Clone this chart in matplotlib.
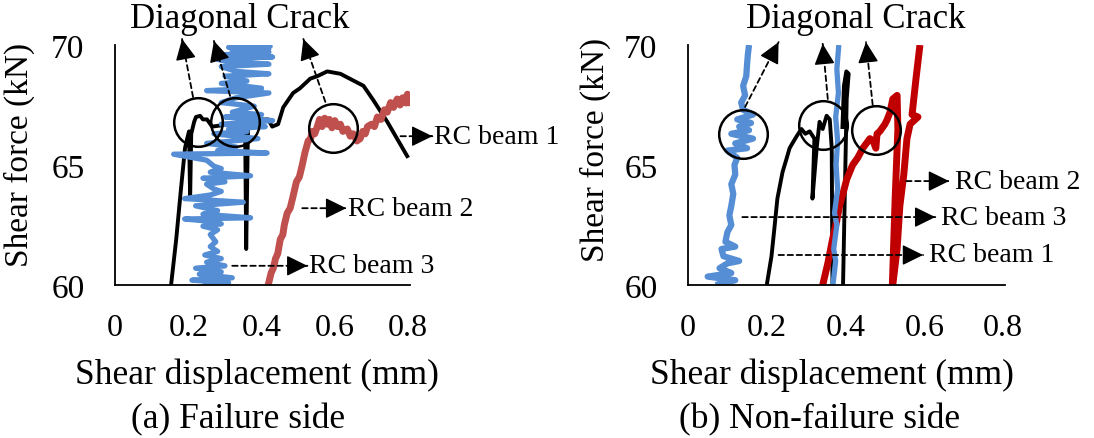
import matplotlib
matplotlib.use("Agg")
import matplotlib.pyplot as plt

plt.rcParams['font.family'] = ['Liberation Serif', 'DejaVu Serif']

# x ticks / y ticks shared by both panels
x_ticks = [0, 0.2, 0.4, 0.6, 0.8]
x_tick_labels = ['0', '0.2', '0.4', '0.6', '0.8']
y_ticks = [60, 65, 70]

# (a) Failure side -- (shear displacement mm, shear force kN)
fail_beam1 = [(0.153, 60.0), (0.167, 61.9), (0.180, 64.0), (0.191, 65.7), (0.197, 66.1),
              (0.202, 66.4), (0.205, 63.6), (0.208, 66.3), (0.216, 66.8), (0.221, 67.0),
              (0.232, 67.05), (0.240, 66.9), (0.251, 66.9), (0.265, 66.6), (0.314, 66.7),
              (0.355, 66.7), (0.358, 61.5), (0.363, 66.7), (0.396, 66.9), (0.418, 66.9),
              (0.429, 66.6), (0.445, 66.7), (0.459, 67.4), (0.486, 68.0), (0.505, 68.2),
              (0.533, 68.6), (0.552, 68.7), (0.579, 68.9), (0.615, 68.8), (0.678, 68.3),
              (0.705, 67.7), (0.743, 66.8), (0.800, 65.3)]
fail_beam2 = [(0.418, 60.0), (0.426, 60.5), (0.432, 60.7), (0.438, 61.1), (0.444, 61.3),
              (0.451, 61.9), (0.458, 62.1), (0.462, 62.5), (0.470, 63.0), (0.478, 63.2),
              (0.486, 63.7), (0.495, 64.3), (0.503, 64.5), (0.511, 65.0), (0.518, 65.5),
              (0.527, 66.0), (0.534, 66.1), (0.538, 66.4), (0.545, 66.3), (0.552, 66.6),
              (0.558, 66.9), (0.565, 66.6), (0.572, 66.95), (0.579, 66.7), (0.585, 66.9),
              (0.592, 66.55), (0.600, 66.85), (0.607, 66.6), (0.615, 66.7), (0.622, 66.4),
              (0.634, 66.5), (0.642, 66.2), (0.650, 66.3), (0.660, 66.0), (0.669, 66.1),
              (0.676, 66.4), (0.683, 66.3), (0.689, 66.6), (0.700, 66.7), (0.708, 66.6),
              (0.716, 67.0), (0.726, 66.9), (0.735, 67.3), (0.743, 67.2), (0.752, 67.6),
              (0.760, 67.4), (0.770, 67.75), (0.778, 67.5), (0.785, 67.8), (0.792, 67.6),
              (0.798, 67.95), (0.800, 67.45)]
fail_beam3 = [(0.24, 60.0), (0.31, 60.1), (0.21, 60.2), (0.32, 60.3), (0.23, 60.45),
              (0.29, 60.55), (0.22, 60.7), (0.30, 60.8), (0.25, 60.95), (0.29, 61.1),
              (0.245, 61.25), (0.28, 61.4), (0.26, 61.6), (0.275, 61.8), (0.26, 62.1),
              (0.28, 62.3), (0.24, 62.45), (0.29, 62.55), (0.26, 62.65), (0.19, 62.75),
              (0.37, 62.8), (0.24, 62.95), (0.28, 63.1), (0.22, 63.3), (0.35, 63.45),
              (0.19, 63.6), (0.26, 63.75), (0.29, 63.9), (0.27, 64.0), (0.25, 64.2),
              (0.30, 64.3), (0.24, 64.45), (0.37, 64.55), (0.26, 64.7), (0.29, 64.85),
              (0.27, 64.95), (0.25, 65.2), (0.16, 65.45), (0.415, 65.5), (0.28, 65.6),
              (0.33, 65.75), (0.25, 65.9), (0.39, 66.1), (0.27, 66.3), (0.36, 66.4),
              (0.31, 66.5), (0.41, 66.6), (0.29, 66.7), (0.43, 66.85), (0.30, 67.0),
              (0.40, 67.1), (0.32, 67.2), (0.38, 67.45), (0.29, 67.6), (0.33, 67.8),
              (0.42, 68.0), (0.25, 68.1), (0.40, 68.2), (0.29, 68.4), (0.36, 68.5),
              (0.30, 68.7), (0.42, 68.8), (0.33, 68.9), (0.29, 69.1), (0.42, 69.2),
              (0.31, 69.3), (0.28, 69.4), (0.43, 69.5), (0.30, 69.6), (0.42, 69.7),
              (0.32, 69.75), (0.42, 69.85), (0.31, 69.9), (0.43, 70.0)]

# (b) Non-failure side
non_beam1 = [(0.199, 59.9), (0.212, 61.2), (0.219, 62.3), (0.227, 63.6), (0.240, 64.7),
             (0.250, 65.25), (0.258, 65.7), (0.265, 65.9), (0.276, 66.2), (0.288, 66.5),
             (0.298, 66.3), (0.309, 66.4), (0.321, 66.1), (0.316, 63.6), (0.327, 65.75),
             (0.334, 66.8), (0.342, 66.5), (0.352, 67.05), (0.360, 66.9), (0.365, 65.7),
             (0.367, 59.5), (0.393, 59.4), (0.398, 63.6), (0.403, 67.75), (0.408, 68.8),
             (0.402, 68.9), (0.396, 68.3), (0.392, 66.5)]
non_beam2 = [(0.342, 60.0), (0.355, 60.9), (0.367, 61.9), (0.378, 62.7), (0.385, 63.3),
             (0.395, 63.9), (0.403, 64.4), (0.418, 65.0), (0.431, 65.3), (0.444, 65.7),
             (0.462, 66.1), (0.470, 66.0), (0.477, 65.7), (0.480, 66.3), (0.487, 66.4),
             (0.500, 66.7), (0.506, 66.9), (0.513, 67.2), (0.520, 67.75), (0.531, 67.9),
             (0.533, 66.5), (0.526, 63.6), (0.518, 59.5), (0.520, 60.0), (0.531, 61.5),
             (0.538, 63.3), (0.548, 64.6), (0.556, 66.1), (0.564, 66.7), (0.584, 67.0),
             (0.569, 67.1), (0.579, 68.6), (0.589, 70.0)]
non_beam3_a = [(0.07, 60.0), (0.12, 60.2), (0.05, 60.35), (0.11, 60.5), (0.08, 60.7),
               (0.10, 60.9), (0.13, 61.0), (0.09, 61.2), (0.085, 61.5), (0.12, 61.6),
               (0.095, 61.8), (0.10, 62.2), (0.11, 62.5), (0.105, 62.9), (0.11, 63.3),
               (0.115, 63.8), (0.11, 64.2), (0.12, 64.6), (0.118, 65.0), (0.125, 65.3),
               (0.10, 65.6), (0.15, 65.7), (0.12, 65.9), (0.165, 66.1), (0.11, 66.3),
               (0.155, 66.45), (0.13, 66.6), (0.16, 66.75), (0.125, 66.9), (0.165, 67.1),
               (0.14, 67.3), (0.135, 67.6), (0.145, 67.9), (0.14, 68.3), (0.148, 68.7),
               (0.15, 69.2), (0.152, 69.6), (0.155, 70.0)]
non_beam3_b = [(0.368, 60.0), (0.375, 61.0), (0.370, 61.5), (0.378, 62.5), (0.372, 63.0),
               (0.380, 64.0), (0.376, 65.0), (0.380, 66.0), (0.375, 67.0), (0.382, 68.0),
               (0.378, 69.0), (0.383, 70.0)]

# annotation texts
crack_text = 'Diagonal Crack'
fail_circles = [(0.227, 66.8), (0.328, 66.8), (0.596, 66.55)]
fail_crack_arrows = [((0.213, 67.83), (0.183, 70.25)), ((0.314, 67.88), (0.270, 70.17)),
                     ((0.574, 67.63), (0.514, 70.25))]
fail_labels = ['RC beam 1', 'RC beam 2', 'RC beam 3']
fail_label_arrows = [((0.779, 66.2), (0.866, 66.2)), ((0.511, 63.2), (0.631, 63.2)),
                     ((0.320, 60.8), (0.525, 60.8))]
non_circles = [(0.14, 66.3), (0.344, 66.65), (0.477, 66.45)]
non_crack_arrows = [((0.145, 67.42), (0.230, 70.12)), ((0.355, 67.75), (0.342, 70.05)),
                    ((0.469, 67.5), (0.452, 70.12))]
non_labels = ['RC beam 2', 'RC beam 3', 'RC beam 1']
non_label_arrows = [((0.554, 64.33), (0.663, 64.33)), ((0.138, 62.83), (0.628, 62.83)),
                    ((0.230, 61.25), (0.597, 61.25))]

BLACK = '#000000'
BLUE = '#558ED5'
RED_A = '#C0504D'
RED_B = '#C00000'

W, H = 1094, 439


def draw_series(ax, pts, color, lw):
    xs = [p[0] for p in pts]
    ys = [p[1] for p in pts]
    ax.plot(xs, ys, color=color, lw=lw, solid_joinstyle='round', solid_capstyle='butt')


def dashed_arrow(ax, start, end):
    # dashed shaft, then a solid filled head on top
    ax.annotate('', xy=end, xytext=start, annotation_clip=False,
                arrowprops=dict(arrowstyle='-', linestyle=(0, (3, 2)), lw=1.3,
                                color='k', shrinkA=0, shrinkB=0))
    near = (start[0] + 0.97 * (end[0] - start[0]), start[1] + 0.97 * (end[1] - start[1]))
    ax.annotate('', xy=end, xytext=near, annotation_clip=False,
                arrowprops=dict(arrowstyle='-|>,head_length=0.65,head_width=0.32',
                                lw=1.0, color='k', mutation_scale=20,
                                shrinkA=0, shrinkB=0))


def style_axes(ax, label_xy):
    ax.set_xlim(0, 0.805)
    ax.set_ylim(60, 70)
    ax.set_xticks(x_ticks)
    ax.set_xticklabels(x_tick_labels)
    ax.set_yticks(y_ticks)
    ax.spines['top'].set_visible(False)
    ax.spines['right'].set_visible(False)
    ax.spines['left'].set_linewidth(1.3)
    ax.spines['bottom'].set_linewidth(1.3)
    ax.tick_params(axis='x', length=0, pad=20, labelsize=23)
    ax.tick_params(axis='y', length=0, pad=22, labelsize=24)
    ax.set_ylabel('Shear force (kN)', fontsize=24)
    ax.yaxis.set_label_coords(*label_xy)


fig = plt.figure(figsize=(W / 100, H / 100), dpi=100)
ax1 = fig.add_axes([115 / W, 1 - 286 / H, 295 / W, 240 / H])
ax2 = fig.add_axes([688 / W, 1 - 286 / H, 317 / W, 240 / H])

# failure side
draw_series(ax1, fail_beam1, BLACK, 2.8)
draw_series(ax1, fail_beam2, RED_A, 5)
draw_series(ax1, fail_beam3, BLUE, 3.8)
style_axes(ax1, (-0.271, 0.546))

for c in fail_circles:
    ax1.plot(*c, 'o', ms=35, mfc='none', mec='k', mew=1.8, clip_on=False)
for s, e in fail_crack_arrows:
    dashed_arrow(ax1, s, e)
for lab, (s, e) in zip(fail_labels, fail_label_arrows):
    dashed_arrow(ax1, s, e)
    ax1.text(e[0] + 0.004, e[1], lab, fontsize=20, ha='left', va='center')

# non-failure side
draw_series(ax2, non_beam1, BLACK, 2.8)
draw_series(ax2, non_beam2, RED_B, 5)
draw_series(ax2, non_beam3_a, BLUE, 4.5)
draw_series(ax2, non_beam3_b, BLUE, 3.8)
style_axes(ax2, (-0.243, 0.567))

for c in non_circles:
    ax2.plot(*c, 'o', ms=35, mfc='none', mec='k', mew=1.8, clip_on=False)
for s, e in non_crack_arrows:
    dashed_arrow(ax2, s, e)
for lab, (s, e) in zip(non_labels, non_label_arrows):
    dashed_arrow(ax2, s, e)
    ax2.text(e[0] + 0.015, e[1], lab, fontsize=20, ha='left', va='center')

# titles and captions
fig.text(240 / W, 1 - 20 / H, crack_text, fontsize=25, ha='center', va='center')
fig.text(856 / W, 1 - 20 / H, crack_text, fontsize=25, ha='center', va='center')
fig.text(257 / W, 1 - 375 / H, 'Shear displacement (mm)', fontsize=25.5, ha='center', va='center')
fig.text(832 / W, 1 - 375 / H, 'Shear displacement (mm)', fontsize=25.5, ha='center', va='center')
fig.text(238 / W, 1 - 420 / H, '(a) Failure side', fontsize=25.5, ha='center', va='center')
fig.text(820 / W, 1 - 420 / H, '(b) Non-failure side', fontsize=25.5, ha='center', va='center')

fig.savefig('out.png', dpi=100)
